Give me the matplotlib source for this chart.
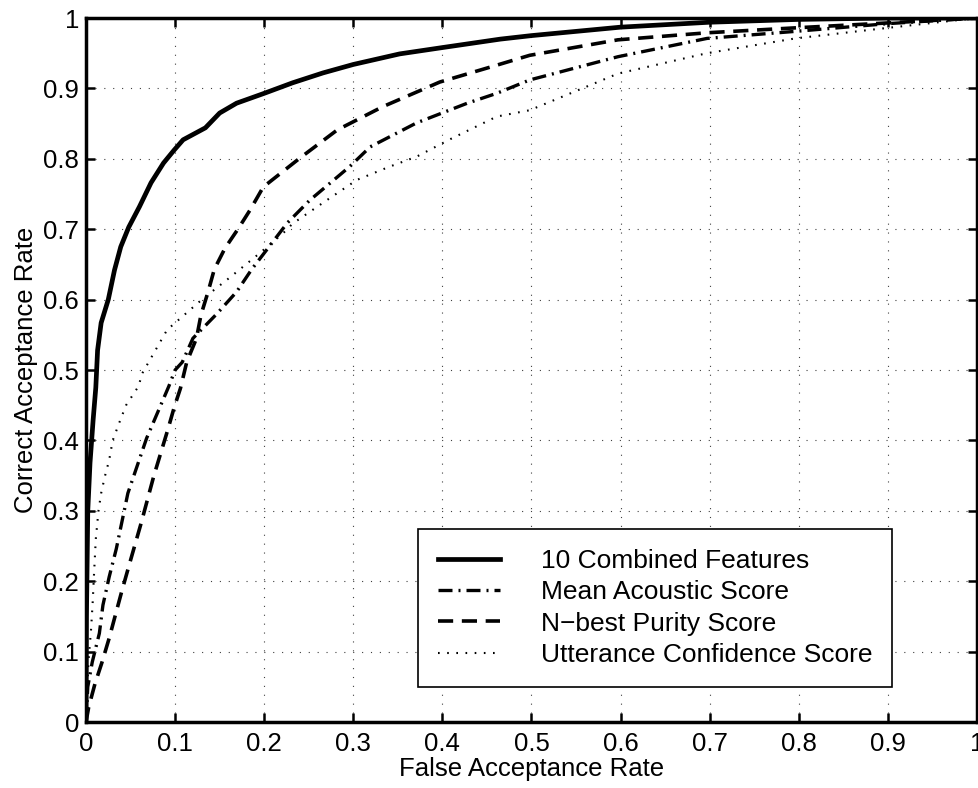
import numpy as np
import matplotlib
matplotlib.use("Agg")
import matplotlib.pyplot as plt
from matplotlib.ticker import FuncFormatter

# ROC curves
comb_far = [0, 0.0005, 0.002, 0.0045, 0.008, 0.011, 0.013, 0.017, 0.025, 0.032,
            0.039, 0.048, 0.060, 0.073, 0.087, 0.099, 0.109, 0.134, 0.150, 0.169,
            0.2, 0.232, 0.266, 0.3, 0.352, 0.4, 0.465, 0.5, 0.6, 0.7, 0.8, 0.9, 1.0]
comb_car = [0, 0.15, 0.3, 0.368, 0.429, 0.475, 0.528, 0.567, 0.6, 0.642,
            0.675, 0.703, 0.732, 0.766, 0.794, 0.8125, 0.827, 0.844, 0.865, 0.879,
            0.893, 0.908, 0.922, 0.934, 0.949, 0.958, 0.970, 0.975, 0.987, 0.994, 0.998, 1.0, 1.0]

acou_far = [0, 0.002, 0.007, 0.015, 0.019, 0.026, 0.034, 0.047, 0.068, 0.093,
            0.100, 0.108, 0.120, 0.147, 0.169, 0.186, 0.206, 0.226, 0.251, 0.296,
            0.319, 0.371, 0.428, 0.461, 0.498, 0.597, 0.697, 0.796, 0.9, 1.0]
acou_car = [0, 0.05, 0.085, 0.126, 0.166, 0.206, 0.246, 0.325, 0.403, 0.477,
            0.5, 0.511, 0.545, 0.58, 0.611, 0.643, 0.676, 0.709, 0.741, 0.789,
            0.817, 0.851, 0.879, 0.893, 0.912, 0.945, 0.971, 0.981, 0.992, 1.0]

nbest_far = [0, 0.003, 0.010, 0.018, 0.026, 0.033, 0.040, 0.048, 0.062, 0.076,
             0.092, 0.099, 0.106, 0.113, 0.124, 0.129, 0.137, 0.144, 0.156, 0.171,
             0.184, 0.199, 0.240, 0.282, 0.333, 0.397, 0.461, 0.498, 0.597, 0.697,
             0.796, 0.9, 1.0]
nbest_car = [0, 0.021, 0.054, 0.085, 0.119, 0.152, 0.185, 0.221, 0.283, 0.349,
             0.416, 0.447, 0.474, 0.511, 0.545, 0.578, 0.611, 0.643, 0.673, 0.701,
             0.727, 0.760, 0.801, 0.841, 0.874, 0.909, 0.933, 0.947, 0.969, 0.979,
             0.986, 0.993, 1.0]

utt_far = [0, 0.001, 0.003, 0.0056, 0.0075, 0.009, 0.011, 0.014, 0.017, 0.021,
           0.026, 0.030, 0.037, 0.045, 0.059, 0.063, 0.091, 0.130, 0.162, 0.195,
           0.221, 0.232, 0.270, 0.304, 0.341, 0.371, 0.409, 0.461, 0.498, 0.597,
           0.697, 0.796, 0.9, 1.0]
utt_car = [0, 0.04, 0.09, 0.13, 0.17, 0.21, 0.26, 0.3, 0.325, 0.348,
           0.372, 0.4, 0.424, 0.45, 0.477, 0.495, 0.557, 0.6, 0.632, 0.666,
           0.694, 0.708, 0.741, 0.770, 0.789, 0.803, 0.828, 0.860, 0.869, 0.921,
           0.950, 0.971, 0.986, 1.0]

labels = ["10 Combined Features", "Mean Acoustic Score",
          "N\u2212best Purity Score", "Utterance Confidence Score"]

plt.rcParams["font.family"] = ["Liberation Sans", "DejaVu Sans"]

W, H = 979, 788
fig = plt.figure(figsize=(W / 100, H / 100), dpi=100)
ax = fig.add_axes([86 / W, (H - 722) / H, 891 / W, 704 / H])

ax.plot(comb_far, comb_car, color="k", lw=3.4, solid_joinstyle="round", label=labels[0])
ax.plot(acou_far, acou_car, color="k", lw=2.4, linestyle=(0, (4.2, 1.8, 0.6, 1.8)), label=labels[1])
ax.plot(nbest_far, nbest_car, color="k", lw=2.6, linestyle=(0, (4.2, 2.4)), label=labels[2])
ax.plot(utt_far, utt_car, color="k", lw=1.5, linestyle=(0, (0.8, 3.6)), label=labels[3])

ax.set_xlim(0, 1)
ax.set_ylim(0, 1)
ticks = np.arange(0, 1.01, 0.1)
ax.set_xticks(ticks)
ax.set_yticks(ticks)
fmt = FuncFormatter(lambda v, p: "%g" % round(v, 1))
ax.xaxis.set_major_formatter(fmt)
ax.yaxis.set_major_formatter(fmt)

ax.grid(True, color="0.25", lw=0.8, linestyle=(0, (1, 7)))
ax.tick_params(direction="in", length=6.5, width=1.8, top=True, right=True,
               labelsize=18.5)
ax.tick_params(axis="y", pad=5)
ax.tick_params(axis="x", pad=7)
for s in ax.spines.values():
    s.set_linewidth(2.5)

ax.set_xlabel("False Acceptance Rate", fontsize=18.5, labelpad=1)
ax.set_ylabel("Correct Acceptance Rate", fontsize=18.5, labelpad=4)

leg = ax.legend(loc="lower right", bbox_to_anchor=(0.905, 0.05), borderaxespad=0,
                fontsize=19, handlelength=2.35, handletextpad=1.55, labelspacing=0.28,
                borderpad=0.75, fancybox=False, framealpha=1)
leg.get_frame().set_edgecolor("k")
leg.get_frame().set_linewidth(1.2)

fig.savefig("out.png", dpi=100)
